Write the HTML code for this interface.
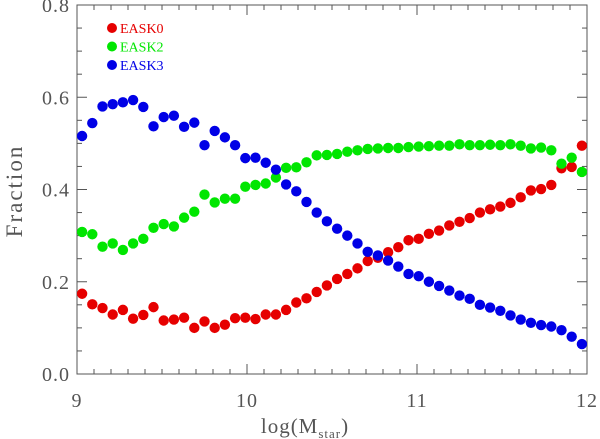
<!DOCTYPE html>
<html><head><meta charset="utf-8"><style>
html,body{margin:0;padding:0;background:#fff;}
svg{display:block;font-family:"Liberation Serif",serif;}
</style></head><body>
<svg id="chart" width="600" height="439" viewBox="0 0 600 439" xmlns="http://www.w3.org/2000/svg">
<g id="axes"></g>
<g id="marks"></g>
<g id="legend"></g>
<text x="0" y="0" transform="translate(22,191) rotate(-90)" text-anchor="middle" font-size="23" fill="#555" letter-spacing="2">Fraction</text>
<text x="305" y="433" text-anchor="middle" font-size="21" fill="#555" letter-spacing="1">log(M<tspan font-size="13" dy="5">star</tspan><tspan dy="-5">)</tspan></text>
</svg>
<script>
const xStart = 9.03;
const xStep = 0.06;
const eask0 = [0.174,0.151,0.143,0.129,0.139,0.120,0.128,0.145,0.116,0.118,0.122,0.100,0.114,0.100,0.107,0.121,0.122,0.119,0.129,0.129,0.139,0.155,0.164,0.178,0.192,0.206,0.217,0.229,0.245,0.252,0.264,0.275,0.290,0.293,0.304,0.311,0.322,0.330,0.338,0.350,0.357,0.363,0.371,0.383,0.398,0.401,0.410,0.446,0.449,0.495];
const eask2 = [0.308,0.303,0.276,0.283,0.269,0.283,0.293,0.317,0.325,0.320,0.339,0.352,0.389,0.372,0.380,0.380,0.406,0.410,0.413,0.426,0.447,0.448,0.459,0.474,0.475,0.477,0.482,0.485,0.488,0.489,0.490,0.490,0.492,0.493,0.494,0.495,0.495,0.498,0.496,0.496,0.497,0.496,0.498,0.495,0.489,0.491,0.485,0.456,0.469,0.438];
const eask3 = [0.516,0.544,0.580,0.585,0.589,0.594,0.579,0.537,0.557,0.560,0.536,0.545,0.496,0.527,0.513,0.496,0.468,0.469,0.458,0.443,0.411,0.396,0.373,0.350,0.331,0.315,0.300,0.283,0.265,0.257,0.246,0.233,0.217,0.212,0.200,0.191,0.181,0.170,0.163,0.150,0.144,0.137,0.127,0.118,0.111,0.106,0.103,0.095,0.081,0.065];
const xTicks = [9,10,11,12];
const yTicks = [0.0,0.2,0.4,0.6,0.8];
const seriesNames = ["EASK0","EASK2","EASK3"];
const seriesColors = ["#e60000","#00e600","#0000e6"];

const L=77,R=587,T=5,B=374;
const xs=v=>L+(v-9)/3*(R-L);
const ys=v=>B-v/0.8*(B-T);
const NS="http://www.w3.org/2000/svg";
function mk(tag,parent,attrs){const e=document.createElementNS(NS,tag);for(const k in attrs)e.setAttribute(k,attrs[k]);parent.appendChild(e);return e;}
const axes=document.getElementById('axes');
const frame=mk('rect',axes,{x:L,y:T,width:R-L,height:B-T,fill:'none',stroke:'#555','stroke-width':1});


for(let i=0;i<=30;i++){const v=9+i*0.1;const x=xs(v);const len=(i%10===0)?10:5;
 const t1=mk('line',axes,{x1:x,x2:x,y1:B,y2:B-len,stroke:'#555'});
 
 
 const t2=mk('line',axes,{x1:x,x2:x,y1:T,y2:T+len,stroke:'#555'});
 
 }
for(let i=0;i<=16;i++){const v=i*0.05;const y=ys(v);const len=(i%4===0)?10:5;
 const t1=mk('line',axes,{x1:L,x2:L+len,y1:y,y2:y,stroke:'#555'});
 
 
 const t2=mk('line',axes,{x1:R,x2:R-len,y1:y,y2:y,stroke:'#555'});
 
 }
xTicks.forEach(v=>{const t=mk('text',axes,{x:xs(v),y:407,'text-anchor':'middle','font-size':20,fill:'#555','letter-spacing':1});t.textContent=String(v);
 
 });
yTicks.forEach(v=>{const t=mk('text',axes,{x:70,y:ys(v)+7,'text-anchor':'end','font-size':20,fill:'#555','letter-spacing':1});t.textContent=v.toFixed(1);
 
 });
const marks=document.getElementById('marks');
[eask0,eask2,eask3].forEach((arr,si)=>{arr.forEach((v,i)=>{
 const c=mk('circle',marks,{cx:xs(xStart+i*xStep),cy:ys(v),r:5.2,fill:seriesColors[si]});
 
 });});
const lg=document.getElementById('legend');
seriesNames.forEach((n,i)=>{const y=28+i*18.5;
 const c=mk('circle',lg,{cx:112,cy:y,r:5,fill:seriesColors[i]});
 
 
 const t=mk('text',lg,{x:120,y:y+5,'font-size':14,fill:seriesColors[i]});t.textContent=n;
 
 });
</script>
</body></html>
